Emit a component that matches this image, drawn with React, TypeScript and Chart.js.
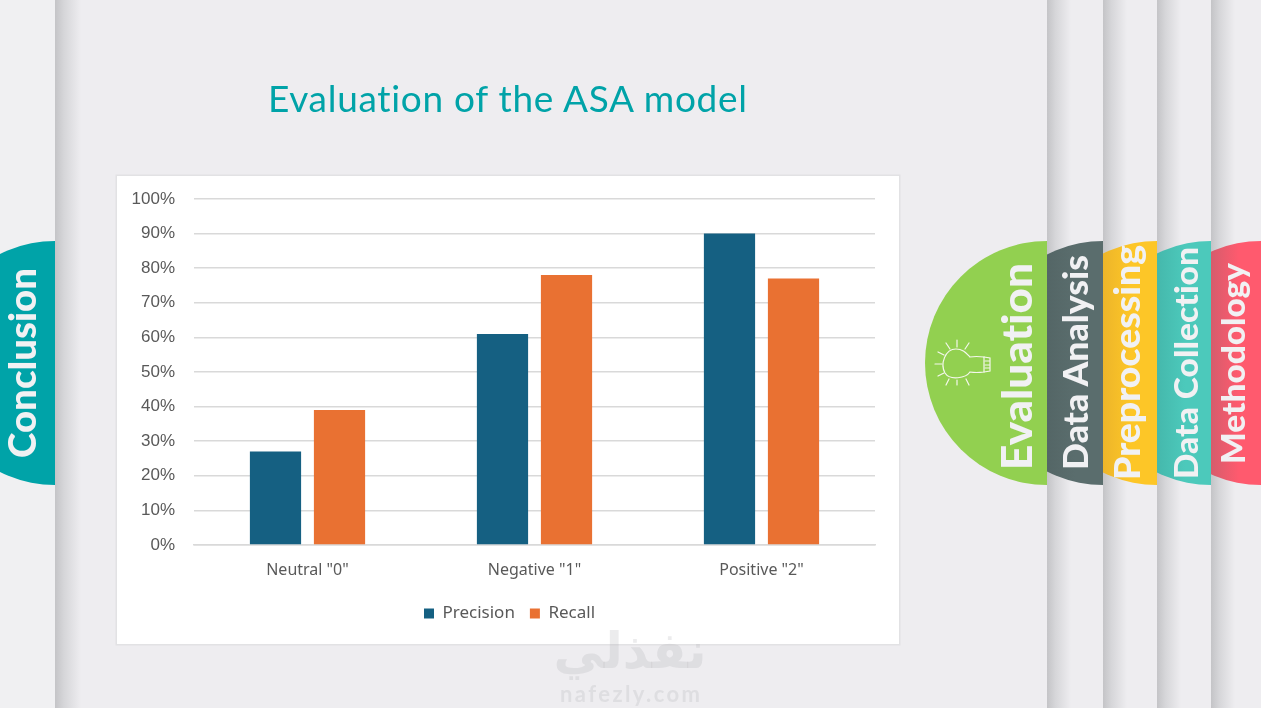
import React, { useEffect, useRef } from "react";
import { Chart, registerables } from "chart.js";

Chart.register(...registerables);

const categories = ['Neutral "0"', 'Negative "1"', 'Positive "2"'];
const precision = [27, 61, 90];
const recall = [39, 78, 77];
const seriesNames = ["Precision", "Recall"];
const title = "Evaluation of the ASA model";

const BG = "#EEEDF0";
const strips = [
  { left: 1047, width: 56, color: "#5A6D6D", dark: "#546666", label: "Data Analysis", x: 1088, y0: 255, y1: 470, size: 34 },
  { left: 1103, width: 54, color: "#FDC627", dark: "#EDB52A", label: "Preprocessing", x: 1140, y0: 245, y1: 480, size: 36 },
  { left: 1157, width: 54, color: "#4CC9BB", dark: "#45B8AC", label: "Data Collection", x: 1198, y0: 247, y1: 479, size: 33 },
  { left: 1211, width: 50, color: "#FF5A6E", dark: "#D65C6C", label: "Methodology", x: 1245, y0: 263, y1: 464, size: 33 },
];
const CY = 363;
const R = 122;

function Shadow({ left, width = 24 }: { left: number; width?: number }) {
  return (
    <div
      style={{
        position: "absolute", left, top: 0, width, height: 708,
        background: "linear-gradient(to right, #C4C4C7 0%, #D6D6D9 35%, " + BG + " 100%)",
      }}
    />
  );
}

function Tab({ left, width, color, dark }: { left: number; width: number; color: string; dark: string }) {
  return (
    <div style={{ position: "absolute", left, top: CY - R, width, height: 2 * R, overflow: "hidden" }}>
      <div
        style={{
          position: "absolute", left: width - R, top: 0, width: 2 * R, height: 2 * R, borderRadius: "50%",
          background: `linear-gradient(to right, ${color} ${R - width}px, ${dark} ${R - width}px, ${color} ${R - width + 28}px)`,
        }}
      />
    </div>
  );
}

function VText({ x, y0, y1, size, label }: { x: number; y0: number; y1: number; size: number; label: string }) {
  const cy = (y0 + y1) / 2;
  return (
    <text
      transform={`translate(${x},${cy}) rotate(-90)`}
      textAnchor="middle"
      textLength={y1 - y0} lengthAdjust="spacingAndGlyphs"
      fontFamily="Lato" fontWeight={900} fontSize={size} fill="#F1F1F3"
      style={{ fontVariantLigatures: "none" }}
    >
      {label}
    </text>
  );
}

const shiftLegend = {
  id: "shiftLegend",
  afterLayout(chart: any) {
    if (chart.legend) {
      chart.legend.left += 14;
      chart.legend.right += 14;
    }
  },
};

export default function App() {
  const ref = useRef<HTMLCanvasElement>(null);

  useEffect(() => {
    const chart = new Chart(ref.current!, {
      type: "bar",
      plugins: [shiftLegend],
      data: {
        labels: categories,
        datasets: [
          { label: seriesNames[0], data: precision, backgroundColor: "#156082", categoryPercentage: 0.564, barPercentage: 0.8 },
          { label: seriesNames[1], data: recall, backgroundColor: "#E97132", categoryPercentage: 0.564, barPercentage: 0.8 },
        ],
      },
      options: {
        responsive: false,
        animation: false,
        layout: { padding: { top: 23, right: 24, left: 0, bottom: 12 } },
        plugins: {
          tooltip: { enabled: false },
          legend: {
            position: "bottom",
            labels: {
              usePointStyle: true, pointStyle: "rect", boxWidth: 10, boxHeight: 10,
              color: "#595959", padding: 15,
              font: { family: "Noto Sans", size: 17 },
            },
          },
        },
        scales: {
          x: {
            grid: { display: false, drawTicks: false },
            border: { color: "#D9D9D9", width: 1.5 },
            ticks: { color: "#595959", padding: 16, font: { family: "Noto Sans", size: 16 } },
            afterFit: (s: any) => { s.height = 45; },
          },
          y: {
            min: 0, max: 100,
            grid: { color: "#D9D9D9", lineWidth: 1.5, drawTicks: true, tickLength: 19, tickColor: "rgba(0,0,0,0)" },
            border: { display: false },
            ticks: {
              stepSize: 10, color: "#595959", padding: 0,
              font: { family: "Liberation Sans", size: 17 },
              callback: (v: any) => v + "%",
            },
            afterFit: (s: any) => { s.width = 78; },
          },
        },
      },
    });
    return () => chart.destroy();
  }, []);

  return (
    <div style={{ position: "fixed", left: 0, top: 0, width: 1261, height: 708, overflow: "hidden", background: BG }}>
      <Shadow left={55} width={26} />
      <Shadow left={1047} width={24} />
      <Shadow left={1103} width={24} />
      <Shadow left={1157} width={24} />
      <Shadow left={1211} width={24} />
      <div style={{ position: "absolute", left: 0, top: 0, width: 55, height: 708, background: "#F0F0F2" }} />
      <Tab left={0} width={55} color="#00A3A8" dark="#00A3A8" />
      <div style={{ position: "absolute", left: 925, top: CY - R, width: 122, height: 2 * R, overflow: "hidden" }}>
        <div style={{ position: "absolute", left: 0, top: 0, width: 2 * R, height: 2 * R, borderRadius: "50%", background: "#92D050" }} />
      </div>
      {strips.map((s) => (
        <Tab key={s.label} left={s.left} width={s.width} color={s.color} dark={s.dark} />
      ))}

      <div
        style={{
          position: "absolute", left: 117, top: 176, width: 782, height: 468,
          background: "#FFFFFF", boxShadow: "0 0 0 1.5px #E2E2E4",
        }}
      >
        <canvas ref={ref} width={783} height={468} style={{ display: "block", marginLeft: -1 }} />
      </div>

      <svg width={1261} height={708} style={{ position: "absolute", left: 0, top: 0, pointerEvents: "none" }}>
        <text x={268} y={112} textLength={479} lengthAdjust="spacing" fontFamily="Lato" fontSize={37} fill="#00A3A8" style={{ fontVariantLigatures: "none" }}>
          {title}
        </text>
        <text x={630} y={668} textAnchor="middle" fontFamily="DejaVu Sans" fontWeight={700} fontSize={50} fill="rgba(170,170,175,0.22)">
          نفذلي
        </text>
        <text x={630} y={702} textAnchor="middle" textLength={140} fontFamily="Lato" fontWeight={700} fontSize={22} fill="rgba(170,170,175,0.22)">
          nafezly.com
        </text>
        <VText x={36} y0={268} y1={458} size={38} label="Conclusion" />
        <VText x={1032} y0={263} y1={470} size={42} label="Evaluation" />
        {strips.map((s) => (
          <VText key={s.label} x={s.x} y0={s.y0} y1={s.y1} size={s.size} label={s.label} />
        ))}
        <g stroke="#F4F7EC" strokeWidth={1.2} fill="none" strokeLinecap="round">
          <path d="M970 357 C976 356 980 356.500 984 357 L984 372 C980 372.500 976 373 970 372 C966 378 950 381 945 373 C940 364 945 349 956 349 C963 349 966 353 970 357 Z" />
          <path d="M984 357 L990 358 L990 371 L984 372 M985 361 H990 M985 365 H990 M985 368 H990" />
          <path d="M957 340 V347 M946 343 L950 349 M969 343 L965 349 M938 352 L944 355 M938 376 L944 373 M935 364 H942 M957 385 V380 M946 385 L949 379 M969 385 L966 379" />
        </g>
      </svg>
    </div>
  );
}
